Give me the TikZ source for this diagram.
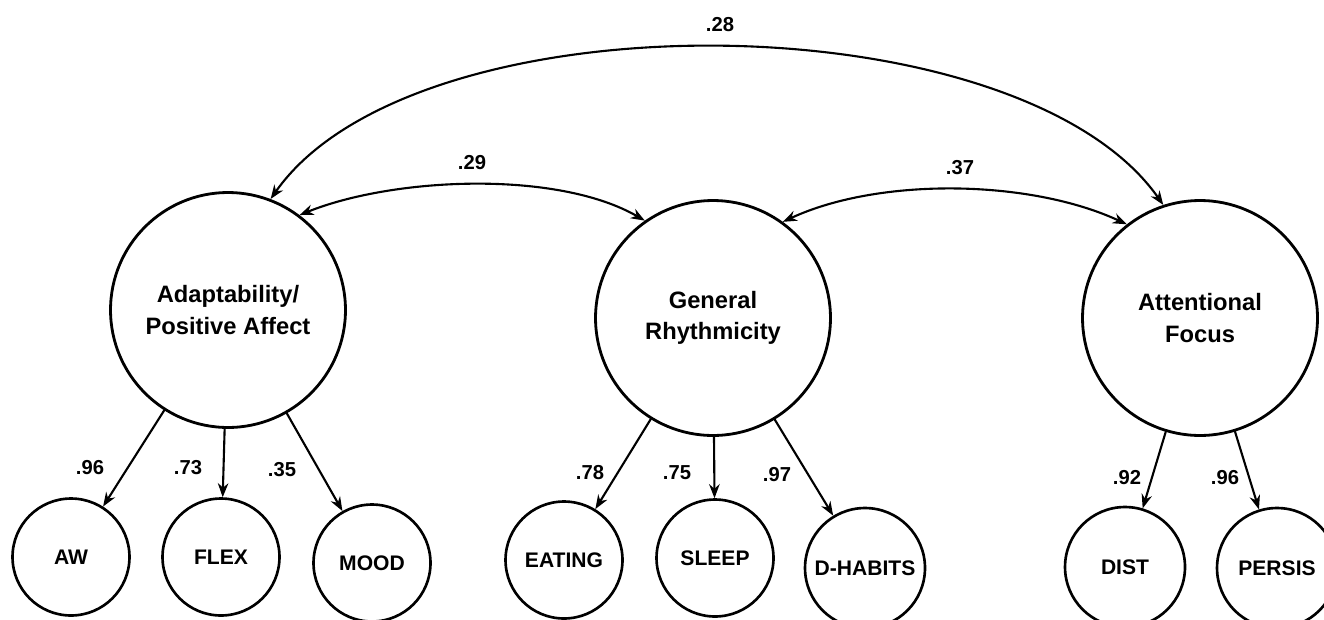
\documentclass[tikz,border=0pt]{standalone}
\usepackage{fontspec}
\setmainfont{Liberation Sans}
\usetikzlibrary{arrows.meta}
\begin{document}
\begin{tikzpicture}[x=0.02cm,y=-0.02cm,>={Stealth[length=8pt,width=6pt]},line join=round,line cap=round,
	factor/.style={draw,circle,line width=1.6pt,minimum size=4.7cm,inner sep=0pt,align=center,font=\bfseries\fontsize{13.5}{18}\selectfont},
	indic/.style={draw,circle,line width=1.5pt,minimum size=2.34cm,inner sep=0pt,font=\bfseries\fontsize{12}{14}\selectfont},
	load/.style={->,line width=1.2pt},
	corr/.style={<->,line width=1.2pt},
	coef/.style={font=\bfseries\fontsize{11.5}{14}\selectfont,inner sep=0pt}]
	\useasboundingbox (0,0) rectangle (1324,619);
	% latent factors
	\node[factor] (adapt) at (228,310) {Adaptability/\\Positive Affect};
	\node[factor] (rhythm) at (713,318) {General\\Rhythmicity};
	\node[factor] (focus) at (1200,318) {Attentional\\Focus};
	% indicators
	\node[indic] (aw) at (71,557) {AW};
	\node[indic] (flex) at (221,557) {FLEX};
	\node[indic] (mood) at (372,563) {MOOD};
	\node[indic] (eating) at (564,560) {EATING};
	\node[indic] (sleep) at (715,558) {SLEEP};
	\node[indic,minimum size=2.4cm] (dhabits) at (865,568) {D-HABITS};
	\node[indic,minimum size=2.4cm] (dist) at (1125,567) {DIST};
	\node[indic,minimum size=2.4cm] (persis) at (1277,568) {PERSIS};
	% loadings
	\draw[load] (adapt)--(aw); \draw[load] (adapt)--(flex); \draw[load] (adapt)--(mood);
	\draw[load] (rhythm)--(eating); \draw[load] (rhythm)--(sleep); \draw[load] (rhythm)--(dhabits);
	\draw[load] (focus)--(dist); \draw[load] (focus)--(persis);
	\node[coef] (law) at (90,468) {.96}; \node[coef] (lflex) at (188,468) {.73}; \node[coef] (lmood) at (282,470) {.35};
	\node[coef] (leating) at (590,473) {.78}; \node[coef] (lsleep) at (677,473) {.75}; \node[coef] (ldhabits) at (777,475) {.97};
	\node[coef] (ldist) at (1127,478) {.92}; \node[coef] (lpersis) at (1225,478) {.96};
	% correlations
	\draw[corr] (adapt.69) to[out=55,in=125,looseness=0.72] (focus.108);
	\draw[corr] (adapt.53) to[out=22,in=150,looseness=0.75] (rhythm.125);
	\draw[corr] (rhythm.54) to[out=25,in=155,looseness=0.79] (focus.128);
	\node[coef] (lar) at (720,25) {.28}; \node[coef] (lrr) at (472,163) {.29}; \node[coef] (lrf) at (960,168) {.37};
\end{tikzpicture}
\end{document}
